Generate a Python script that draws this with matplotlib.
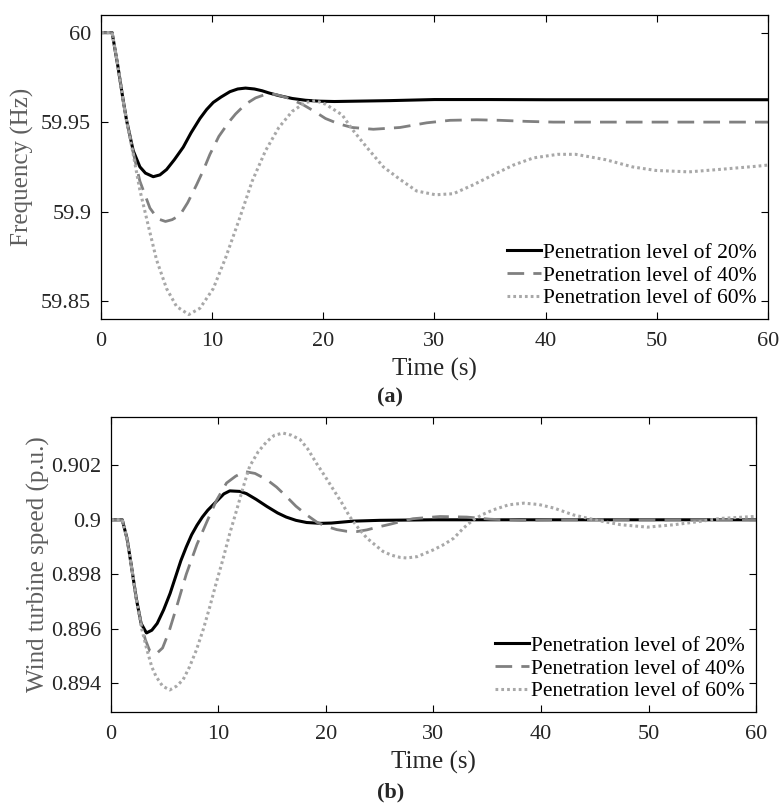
import matplotlib
matplotlib.use('Agg')
import matplotlib.pyplot as plt
from matplotlib.ticker import FormatStrFormatter

plt.rcParams['font.family'] = ['Liberation Serif', 'DejaVu Serif']

labels = ['Penetration level of 20%', 'Penetration level of 40%', 'Penetration level of 60%']

# (a) frequency
t_f20 = [0, 1.0, 1.5, 2.0, 2.3, 2.9, 3.5, 4.0, 4.7, 5.3, 5.9, 6.6, 7.4, 8.1, 8.9, 9.5, 10.1,
         10.8, 11.6, 12.3, 13.0, 13.8, 14.5, 15.1, 16.0, 17.2, 18.4, 19.6, 21, 23, 26, 30, 35, 40, 50, 60]
f20 = [60, 60, 59.982, 59.962, 59.951, 59.934, 59.925, 59.9215, 59.9195, 59.9205, 59.9235, 59.929,
       59.936, 59.944, 59.952, 59.957, 59.961, 59.964, 59.967, 59.9685, 59.969, 59.9685, 59.9675,
       59.9663, 59.9648, 59.9632, 59.9622, 59.9617, 59.9615, 59.9617, 59.962, 59.9626, 59.9626,
       59.9625, 59.9625, 59.9625]

t_f40 = [0, 1.0, 1.5, 2.0, 2.3, 2.9, 3.5, 4.4, 5.1, 5.8, 6.4, 7.1, 7.8, 8.6, 9.2, 9.8, 10.6, 11.5,
         12.1, 13.0, 13.9, 14.8, 15.7, 16.8, 18.1, 19.2, 20.2, 21.4, 22.6, 24.5, 26.9, 29.3, 31.4,
         33.8, 35.9, 38.3, 40.7, 45, 50, 55, 60]
f40 = [60, 60, 59.982, 59.962, 59.951, 59.933, 59.917, 59.902, 59.896, 59.8945, 59.8955, 59.898,
       59.905, 59.915, 59.923, 59.932, 59.942, 59.950, 59.9545, 59.960, 59.9635, 59.9655, 59.9655,
       59.9635, 59.960, 59.956, 59.952, 59.949, 59.947, 59.946, 59.947, 59.9496, 59.951, 59.9513,
       59.951, 59.9504, 59.950, 59.950, 59.950, 59.950, 59.950]

t_f60 = [0, 1.0, 1.5, 2.0, 2.3, 2.9, 3.5, 4.3, 5.0, 5.9, 6.8, 7.9, 8.9, 10.1, 11.2, 12.4, 13.6,
         14.8, 16.0, 17.2, 18.4, 19.3, 20.2, 21.7, 22.6, 23.9, 25.4, 26.9, 28.4, 30.1, 31.7, 33.5,
         35.3, 37.1, 38.9, 41.1, 42.7, 45.4, 47.8, 49.9, 52.9, 55.9, 58.9, 60]
f60 = [60, 60, 59.982, 59.962, 59.951, 59.932, 59.912, 59.891, 59.873, 59.857, 59.847, 59.8425,
       59.846, 59.857, 59.874, 59.895, 59.917, 59.934, 59.947, 59.956, 59.961, 59.962, 59.960,
       59.954, 59.946, 59.936, 59.925, 59.918, 59.9115, 59.9094, 59.910, 59.915, 59.9206, 59.926,
       59.930, 59.932, 59.932, 59.929, 59.925, 59.923, 59.9222, 59.9237, 59.9253, 59.926]

# (b) wind turbine speed
t_w20 = [0, 1.05, 1.5, 1.9, 2.36, 2.8, 3.3, 3.8, 4.3, 4.9, 5.5, 6.0, 6.5, 7.0, 7.5, 8.0, 8.5,
         9.0, 10.0, 10.5, 11.05, 12.0, 12.6, 13.5, 14.5, 15.5, 16.3, 17.2, 18.2, 19.5, 20.5, 22.5,
         25, 30, 60]
w20 = [0.9, 0.9, 0.8993, 0.8983, 0.8971, 0.8962, 0.89585, 0.89595, 0.8962, 0.8967, 0.8973,
       0.8979, 0.8985, 0.8990, 0.89945, 0.8998, 0.9001, 0.90035, 0.90075, 0.90095, 0.90106,
       0.90104, 0.90096, 0.90075, 0.90049, 0.90025, 0.9001, 0.89998, 0.8999, 0.89987, 0.89988,
       0.89995, 0.89998, 0.9, 0.9]

t_w40 = [0, 1.05, 1.5, 1.9, 2.36, 2.8, 3.2, 3.6, 4.2, 4.8, 5.4, 6.1, 7.0, 8.0, 9.0, 9.8, 10.75,
         11.6, 12.45, 13.4, 14.5, 15.4, 16.3, 17.2, 18.2, 19.2, 20.1, 21.0, 21.9, 22.9, 23.8, 25,
         26, 27, 28.1, 30.6, 33.1, 35.3, 38.1, 42, 60]
w40 = [0.9, 0.9, 0.8993, 0.8983, 0.8971, 0.8962, 0.8956, 0.8952, 0.89508, 0.8953, 0.8959, 0.8968,
       0.8980, 0.8991, 0.9000, 0.9007, 0.90135, 0.9016, 0.90177, 0.9017, 0.90147, 0.9012, 0.90086,
       0.9005, 0.90018, 0.8999, 0.89975, 0.89964, 0.89958, 0.89957, 0.89963, 0.89975, 0.89984,
       0.89994, 0.90004, 0.90012, 0.9001, 0.90002, 0.89998, 0.9, 0.9]

t_w60 = [0, 1.05, 1.5, 1.9, 2.36, 2.8, 3.3, 3.8, 4.2, 4.8, 5.47, 6.1, 6.7, 7.3, 7.95, 8.6, 9.2,
         9.8, 10.4, 11.05, 11.7, 12.3, 12.9, 13.7, 14.5, 15.2, 16.0, 16.8, 17.6, 18.3, 19.1, 19.9,
         20.7, 21.5, 22.2, 23.0, 23.8, 24.5, 25.3, 26.1, 26.9, 27.5, 28.5, 30.0, 31.0, 31.9, 32.8,
         33.7, 34.6, 35.6, 37.0, 38.4, 39.8, 41.2, 43.0, 45.2, 47.4, 49.9, 52.4, 54.8, 56.7, 59.8, 60]
w60 = [0.9, 0.9, 0.8993, 0.8983, 0.8971, 0.8961, 0.8953, 0.8946, 0.89425, 0.8939, 0.89376, 0.8939,
       0.89413, 0.8946, 0.89523, 0.8960, 0.89682, 0.8977, 0.89853, 0.8995, 0.90037, 0.9012,
       0.90196, 0.9025, 0.90287, 0.9031, 0.90318, 0.9031, 0.90294, 0.9026, 0.90208, 0.9016,
       0.9011, 0.9006, 0.90012, 0.8997, 0.89933, 0.8991, 0.89884, 0.8987, 0.89862, 0.8986,
       0.89865, 0.8989, 0.8991, 0.89933, 0.8997, 0.9, 0.9002, 0.90037, 0.90055, 0.90061, 0.90056,
       0.90043, 0.90018, 0.89998, 0.89982, 0.89973, 0.89982, 0.89994, 0.90005, 0.90012, 0.90012]

freq_ticks = [59.85, 59.9, 59.95, 60]
speed_ticks = [0.894, 0.896, 0.898, 0.9, 0.902]
time_ticks = [0, 10, 20, 30, 40, 50, 60]

fig = plt.figure(figsize=(7.81, 8.05), dpi=100)
ax1 = fig.add_axes([0.1293, 0.6037, 0.854, 0.3776])
ax2 = fig.add_axes([0.1421, 0.1155, 0.8259, 0.3665])

styles = [dict(color='black', lw=2.2, ls='-'),
          dict(color='#808080', lw=2.0, ls=(0, (6, 3.3))),
          dict(color='#a8a8a8', lw=2.2, ls=(0, (0.9, 1.0)))]

for t, y, lab, st in zip([t_f20, t_f40, t_f60], [f20, f40, f60], labels, styles):
    ax1.plot(t, y, label=lab, **st)
for t, y, lab, st in zip([t_w20, t_w40, t_w60], [w20, w40, w60], labels, styles):
    ax2.plot(t, y, label=lab, **st)

ax1.set_ylim(59.840, 60.0098)
ax1.set_yticks(freq_ticks)
ax2.set_ylim(0.89295, 0.90377)
ax2.set_yticks(speed_ticks)

for ax in (ax1, ax2):
    ax.set_xlim(0, 60)
    ax.set_xticks(time_ticks)
    ax.yaxis.set_major_formatter(FormatStrFormatter('%g'))
    ax.tick_params(direction='in', top=True, right=True, length=5, width=0.8,
                   labelsize=16, labelcolor='#262626')
    ax.tick_params(axis='x', pad=9.5)
    ax.tick_params(axis='y', pad=7)
    for s in ax.spines.values():
        s.set_linewidth(0.9)
    ax.set_xlabel('Time (s)', fontsize=18, color='#262626', labelpad=5)
    ax.legend(loc='lower right', frameon=False, fontsize=15.5, handlelength=1.6,
              handletextpad=0.1, labelspacing=0.12, borderaxespad=0.1)

ax1.set_ylabel('Frequency (Hz)', fontsize=18, color='#5e5e5e', labelpad=5)
ax2.set_ylabel('Wind turbine speed (p.u.)', fontsize=18, color='#5e5e5e', labelpad=1)

fig.text(0.5, 1 - 397 / 805, '(a)', ha='center', va='center', fontsize=16, fontweight='bold', color='#262626')
fig.text(0.5, 1 - 792 / 805, '(b)', ha='center', va='center', fontsize=16, fontweight='bold', color='#262626')

fig.savefig('out.png', dpi=100)
